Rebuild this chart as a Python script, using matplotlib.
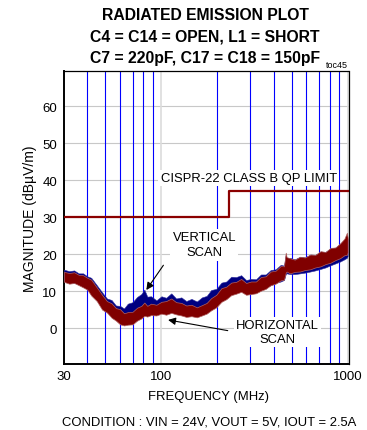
import matplotlib
matplotlib.use("Agg")
import matplotlib.pyplot as plt
import numpy as np

plt.rcParams['font.family'] = ['Liberation Sans', 'DejaVu Sans']

# frequency points (MHz)
freq = [30, 32, 34, 36, 38, 40, 42, 45, 48, 51, 54, 57, 60, 63, 66, 70, 74, 78,
        81, 84, 88, 94, 100, 106, 113, 120, 128, 136, 145, 155, 165, 175, 185,
        197, 210, 223, 237, 252, 268, 285, 303, 322, 342, 363, 386, 410, 437,
        455, 465, 470, 490, 520, 555, 590, 630, 670, 715, 760, 810, 860, 910,
        960, 990, 1000]

# horizontal scan band (dBuV/m)
horiz_lo = [12.5, 12.0, 12.2, 11.6, 11.0, 10.4, 8.8, 7.3, 5.0, 4.2, 2.8, 2.0,
            1.0, 0.7, 0.9, 1.0, 2.0, 2.6, 3.3, 3.1, 3.5, 3.4, 3.9, 3.6, 4.1,
            3.7, 3.4, 3.0, 3.2, 2.9, 3.4, 3.9, 4.8, 5.6, 7.1, 7.8, 8.9, 9.3,
            9.8, 9.0, 9.2, 9.4, 10.1, 10.6, 11.6, 12.0, 12.9, 13.1, 15.0, 15.3,
            14.8, 15.2, 15.3, 15.7, 15.9, 16.4, 16.7, 17.3, 17.7, 18.4, 18.9,
            19.7, 19.8, 20.5]
horiz_hi = [15.2, 14.9, 15.1, 14.4, 14.3, 13.6, 13.1, 11.0, 9.0, 7.3, 6.7, 5.4,
            5.1, 4.0, 4.3, 4.4, 5.5, 6.0, 6.9, 6.0, 6.6, 6.3, 7.1, 7.3, 8.0,
            7.0, 6.8, 6.1, 6.3, 5.6, 6.2, 6.8, 8.1, 9.0, 10.8, 11.2, 12.3,
            12.5, 13.3, 12.2, 12.6, 12.6, 13.8, 14.0, 15.3, 15.5, 16.8, 16.7,
            20.4, 19.2, 18.9, 18.5, 19.3, 19.1, 19.9, 19.8, 20.8, 20.6, 21.7,
            21.8, 22.9, 24.2, 25.8, 24.5]

# vertical scan band (dBuV/m)
vert_lo = [12.8, 12.6, 12.2, 12.0, 11.3, 10.5, 9.3, 7.6, 5.6, 4.4, 3.4, 2.4,
           1.6, 1.5, 2.0, 2.8, 3.6, 4.6, 5.0, 4.8, 4.6, 4.7, 5.0, 5.2, 5.4,
           5.0, 4.6, 4.4, 4.2, 4.2, 4.6, 5.4, 6.2, 7.0, 8.0, 8.8, 9.4, 9.8,
           10.0, 9.6, 9.3, 9.8, 10.4, 11.0, 11.6, 12.2, 12.6, 13.0, 14.6, 14.8,
           14.6, 14.6, 14.8, 15.0, 15.3, 15.6, 16.0, 16.4, 17.0, 17.5, 18.0,
           18.6, 19.0, 19.5]
vert_hi = [15.8, 15.4, 15.6, 14.8, 14.8, 14.0, 13.6, 11.6, 9.7, 8.0, 7.6, 6.1,
           6.0, 5.3, 6.6, 7.0, 8.4, 9.2, 10.4, 8.5, 8.6, 7.5, 8.6, 8.2, 9.4,
           8.0, 8.3, 7.3, 7.9, 7.2, 8.3, 8.7, 10.3, 10.6, 12.3, 12.6, 13.9,
           13.8, 14.3, 13.0, 13.3, 13.2, 14.5, 14.5, 15.7, 15.9, 17.1, 16.9,
           19.8, 18.9, 19.0, 18.6, 19.3, 19.1, 19.9, 19.8, 20.7, 20.6, 21.6,
           21.8, 22.8, 23.6, 24.8, 24.0]

# CISPR-22 class B QP limit
limit_f = [30, 230, 230, 1000]
limit_v = [30, 30, 37, 37]

minor_grid = [40, 50, 60, 70, 80, 90, 200, 300, 400, 500, 600, 700, 800, 900]
major_grid = [100, 1000]
y_ticks = [0, 10, 20, 30, 40, 50, 60]

W, H = 367, 431
fig = plt.figure(figsize=(W / 100, H / 100), dpi=100)
ax = fig.add_axes([64 / W, 1 - 364.5 / H, 284.5 / W, 292.2 / H])

def px(x, y):
    return x / W, 1 - y / H

ax.set_xscale('log')
ax.set_xlim(30.4, 1010)
ax.set_ylim(-9.6, 69.5)

for v in y_ticks:
    ax.axhline(v, color='#c8c8c8', lw=0.8, zorder=1)
for f in minor_grid:
    ax.axvline(f, color='#0000ff', lw=0.8, zorder=1)
for f in major_grid:
    ax.axvline(f, color='#dcdcdc', lw=1.2, zorder=1)

ax.fill_between(freq, vert_lo, vert_hi, color='#000080', lw=0.4,
                edgecolor='#3030a0', zorder=3)
ax.fill_between(freq, horiz_lo, horiz_hi, color='#800000', lw=0.5,
                edgecolor='#b06060', zorder=4)

ax.plot(limit_f, limit_v, color='#8b0000', lw=1.6, zorder=5)

ax.set_xticks([30, 100, 1000])
ax.set_xticklabels(['30', '100', '1000'])
ax.set_xticks([], minor=True)
ax.set_yticks(y_ticks)
ax.tick_params(length=0, labelsize=9.5, pad=5)
for s in ax.spines.values():
    s.set_color('black')
    s.set_linewidth(0.9)
ax.spines['left'].set_linewidth(1.4)
ax.spines['bottom'].set_linewidth(1.4)

ax.set_ylabel('MAGNITUDE (dBµV/m)', fontsize=10, labelpad=4)
fig.text(*px(208, 397), 'FREQUENCY (MHz)', fontsize=9.4, ha='center', va='center')
fig.text(*px(209, 423), 'CONDITION : VIN = 24V, VOUT = 5V, IOUT = 2.5A',
         fontsize=9.4, ha='center', va='center')

title_lines = ['RADIATED EMISSION PLOT', 'C4 = C14 = OPEN, L1 = SHORT',
               'C7 = 220pF, C17 = C18 = 150pF']
for i, t in enumerate(title_lines):
    fig.text(*px(205, 16 + i * 21.3), t, fontsize=11.3, fontweight='bold',
             ha='center', va='center')
fig.text(*px(348, 66), 'toc45', fontsize=6.5, ha='right', va='center')

box = dict(facecolor='white', edgecolor='none', pad=1.5)
ax.text(294, 40.6, 'CISPR-22 CLASS B QP LIMIT', fontsize=9.4, ha='center',
        va='center', bbox=box, zorder=6)
ax.text(170, 22.5, 'VERTICAL\nSCAN', fontsize=9.4, ha='center', va='center',
        linespacing=1.35, bbox=box, zorder=6)
ax.text(421, -1.1, 'HORIZONTAL\nSCAN', fontsize=9.4, ha='center', va='center',
        linespacing=1.2, bbox=box, zorder=6)

arrow = dict(arrowstyle='-|>', color='black', lw=0.8, mutation_scale=11,
             shrinkA=0, shrinkB=0)
ax.annotate('', xy=(83, 10.3), xytext=(102.5, 17), arrowprops=arrow, zorder=7)
ax.annotate('', xy=(108.6, 2.2), xytext=(227, -0.7), arrowprops=arrow, zorder=7)

fig.savefig('out.png', dpi=100)
